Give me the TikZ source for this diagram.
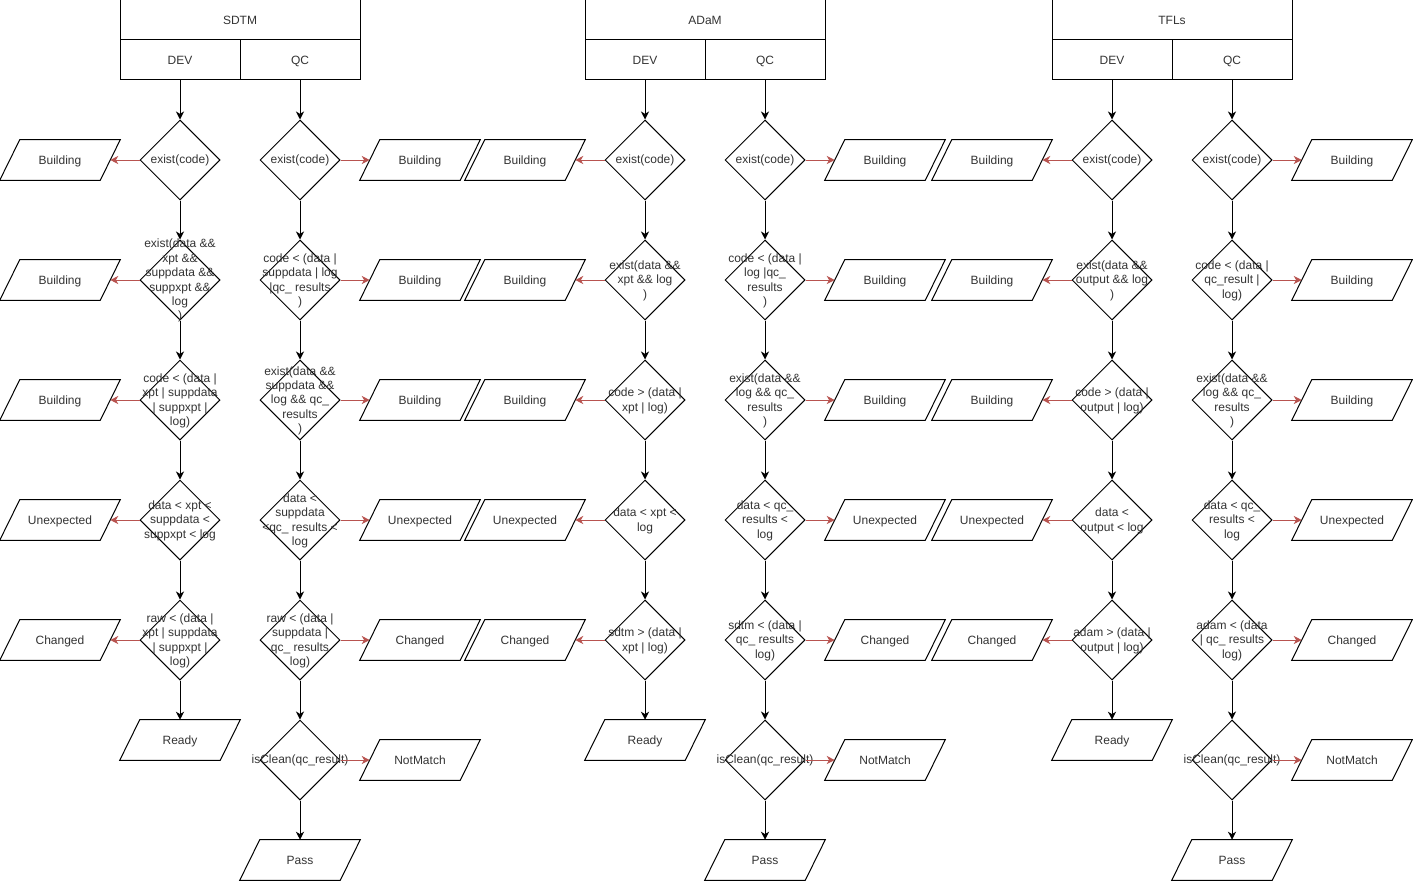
\documentclass[tikz,border=0pt]{standalone}
\usepackage{fontspec}
\setmainfont{Liberation Sans}
\usetikzlibrary{shapes.geometric,arrows.meta}
\definecolor{redline}{HTML}{B85450}
\definecolor{txtc}{HTML}{333333}
\tikzset{
  every node/.style={font=\fontsize{9}{10.8}\selectfont, text=txtc},
  hdr/.style={draw=black, rectangle, minimum width=180pt, minimum height=30pt, inner sep=0pt, line width=0.75pt, text height=8.1pt, text depth=1.9pt},
  subhdr/.style={draw=black, rectangle, minimum width=90pt, minimum height=30pt, inner sep=0pt, line width=0.75pt, text height=8.1pt, text depth=1.9pt},
  dia/.style={draw=black, diamond, minimum width=60pt, minimum height=60pt, inner sep=0pt, line width=0.75pt},
  dtxt/.style={align=center, inner sep=0pt, yshift=-0.6pt},
  io/.style={rectangle, minimum width=75pt, minimum height=30pt, inner sep=0pt, text height=8.1pt, text depth=1.9pt},
  ioline/.style={draw=black, line width=0.75pt, line join=miter},
  flow/.style={draw=black, line width=0.75pt, -{Stealth[length=6pt,width=6pt,inset=1.8pt]}},
  side/.style={draw=redline, line width=0.75pt, -{Stealth[length=6pt,width=6pt,inset=1.8pt]}},
}
\newcommand{\mkdia}[4]{\node[dia] (#1) at (#2,#3) {}; \node[dtxt] (#1t) at (#2,#3) {#4};}
\newcommand{\mkio}[4]{\node[io] (#1) at (#2,#3) {#4};
  \draw[ioline] ([xshift=-7.5pt]#1.south west) -- ([xshift=7.5pt]#1.north west)
     -- ([xshift=7.5pt]#1.north east) -- ([xshift=-7.5pt]#1.south east) -- cycle;}
\begin{document}
\begin{tikzpicture}[x=0.75pt,y=-0.75pt]
\useasboundingbox (0,0) rectangle (1413,881);
% headers
\node[hdr] (sdtm) at (240,20) {SDTM};
\node[subhdr] (sdev) at (180,60) {DEV};
\node[subhdr] (sqc) at (300,60) {QC};
\node[hdr] (adam) at (705,20) {ADaM};
\node[subhdr] (adev) at (645,60) {DEV};
\node[subhdr] (aqc) at (765,60) {QC};
\node[hdr] (tfl) at (1172,20) {TFLs};
\node[subhdr] (tdev) at (1112,60) {DEV};
\node[subhdr] (tqc) at (1232,60) {QC};

% SDTM DEV
\mkdia{s1}{180}{160}{exist(code)}
\mkdia{s2}{180}{280}{exist(data \&\&\\xpt \&\&\\suppdata \&\&\\suppxpt \&\&\\log\\)}
\mkdia{s3}{180}{400}{code < (data |\\xpt | suppdata\\| suppxpt |\\log)}
\mkdia{s4}{180}{520}{data < xpt <\\suppdata <\\suppxpt < log}
\mkdia{s5}{180}{640}{raw < (data |\\xpt | suppdata\\| suppxpt |\\log)}
\mkio{sl1}{60}{160}{Building}
\mkio{sl2}{60}{280}{Building}
\mkio{sl3}{60}{400}{Building}
\mkio{sl4}{60}{520}{Unexpected}
\mkio{sl5}{60}{640}{Changed}
\mkio{sr}{180}{740}{Ready}

% SDTM QC
\mkdia{q1}{300}{160}{exist(code)}
\mkdia{q2}{300}{280}{code < (data |\\suppdata | log\\|qc\_ results\\)}
\mkdia{q3}{300}{400}{exist(data \&\&\\suppdata \&\&\\log \&\& qc\_\\results\\)}
\mkdia{q4}{300}{520}{data <\\suppdata\\<qc\_ results <\\log}
\mkdia{q5}{300}{640}{raw < (data |\\suppdata |\\qc\_ results\\log)}
\mkdia{q6}{300}{760}{isClean(qc\_result)}
\mkio{ql1}{420}{160}{Building}
\mkio{ql2}{420}{280}{Building}
\mkio{ql3}{420}{400}{Building}
\mkio{ql4}{420}{520}{Unexpected}
\mkio{ql5}{420}{640}{Changed}
\mkio{qn}{420}{760}{NotMatch}
\mkio{qp}{300}{860}{Pass}

% ADaM DEV
\mkdia{a1}{645}{160}{exist(code)}
\mkdia{a2}{645}{280}{exist(data \&\&\\xpt \&\& log\\)}
\mkdia{a3}{645}{400}{code > (data |\\xpt | log)}
\mkdia{a4}{645}{520}{data < xpt <\\log}
\mkdia{a5}{645}{640}{sdtm > (data |\\xpt | log)}
\mkio{al1}{525}{160}{Building}
\mkio{al2}{525}{280}{Building}
\mkio{al3}{525}{400}{Building}
\mkio{al4}{525}{520}{Unexpected}
\mkio{al5}{525}{640}{Changed}
\mkio{ar}{645}{740}{Ready}

% ADaM QC
\mkdia{b1}{765}{160}{exist(code)}
\mkdia{b2}{765}{280}{code < (data |\\log |qc\_\\results\\)}
\mkdia{b3}{765}{400}{exist(data \&\&\\log \&\& qc\_\\results\\)}
\mkdia{b4}{765}{520}{data < qc\_\\results <\\log}
\mkdia{b5}{765}{640}{sdtm < (data |\\qc\_ results\\log)}
\mkdia{b6}{765}{760}{isClean(qc\_result)}
\mkio{bl1}{885}{160}{Building}
\mkio{bl2}{885}{280}{Building}
\mkio{bl3}{885}{400}{Building}
\mkio{bl4}{885}{520}{Unexpected}
\mkio{bl5}{885}{640}{Changed}
\mkio{bn}{885}{760}{NotMatch}
\mkio{bp}{765}{860}{Pass}

% TFLs DEV
\mkdia{t1}{1112}{160}{exist(code)}
\mkdia{t2}{1112}{280}{exist(data \&\&\\output \&\& log\\)}
\mkdia{t3}{1112}{400}{code > (data |\\output | log)}
\mkdia{t4}{1112}{520}{data <\\output < log}
\mkdia{t5}{1112}{640}{adam > (data |\\output | log)}
\mkio{tl1}{992}{160}{Building}
\mkio{tl2}{992}{280}{Building}
\mkio{tl3}{992}{400}{Building}
\mkio{tl4}{992}{520}{Unexpected}
\mkio{tl5}{992}{640}{Changed}
\mkio{tr}{1112}{740}{Ready}

% TFLs QC
\mkdia{u1}{1232}{160}{exist(code)}
\mkdia{u2}{1232}{280}{code < (data |\\qc\_result |\\log)}
\mkdia{u3}{1232}{400}{exist(data \&\&\\log \&\& qc\_\\results\\)}
\mkdia{u4}{1232}{520}{data < qc\_\\results <\\log}
\mkdia{u5}{1232}{640}{adam < (data\\| qc\_ results\\log)}
\mkdia{u6}{1232}{760}{isClean(qc\_result)}
\mkio{ul1}{1352}{160}{Building}
\mkio{ul2}{1352}{280}{Building}
\mkio{ul3}{1352}{400}{Building}
\mkio{ul4}{1352}{520}{Unexpected}
\mkio{ul5}{1352}{640}{Changed}
\mkio{un}{1352}{760}{NotMatch}
\mkio{up}{1232}{860}{Pass}

% black flow arrows
\foreach \a/\b in {sdev/s1,s1/s2,s2/s3,s3/s4,s4/s5,s5/sr,
                   sqc/q1,q1/q2,q2/q3,q3/q4,q4/q5,q5/q6,q6/qp,
                   adev/a1,a1/a2,a2/a3,a3/a4,a4/a5,a5/ar,
                   aqc/b1,b1/b2,b2/b3,b3/b4,b4/b5,b5/b6,b6/bp,
                   tdev/t1,t1/t2,t2/t3,t3/t4,t4/t5,t5/tr,
                   tqc/u1,u1/u2,u2/u3,u3/u4,u4/u5,u5/u6,u6/up}
  \draw[flow] (\a.south) -- (\b.north);

% red side arrows
\foreach \i in {1,...,5} {
  \draw[side] (s\i.west) -- (sl\i.east);
  \draw[side] (q\i.east) -- (ql\i.west);
  \draw[side] (a\i.west) -- (al\i.east);
  \draw[side] (b\i.east) -- (bl\i.west);
  \draw[side] (t\i.west) -- (tl\i.east);
  \draw[side] (u\i.east) -- (ul\i.west);
}
\draw[side] (q6.east) -- (qn.west);
\draw[side] (b6.east) -- (bn.west);
\draw[side] (u6.east) -- (un.west);
\end{tikzpicture}
\end{document}
